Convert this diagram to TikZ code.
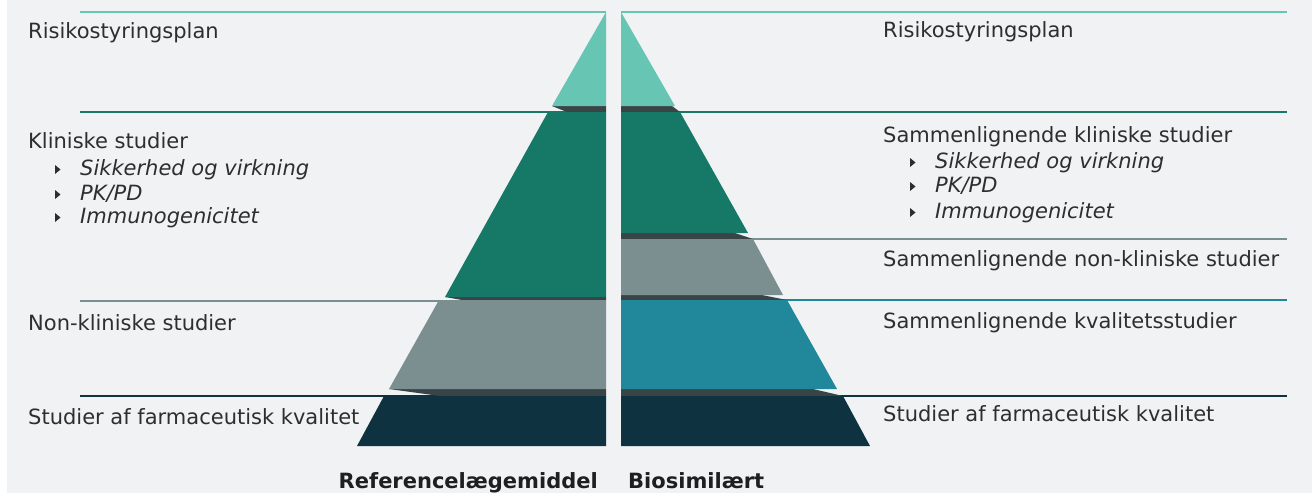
\documentclass[tikz,border=0pt]{standalone}
\usepackage{fontspec}
\setmainfont{DejaVu Sans}
\usetikzlibrary{positioning}

\definecolor{riskteal}{HTML}{66C5B3}
\definecolor{clingreen}{HTML}{167866}
\definecolor{nongray}{HTML}{7B8F90}
\definecolor{qualblue}{HTML}{21879A}
\definecolor{qualnavy}{HTML}{0E323F}
\definecolor{dropgray}{HTML}{394446}
\definecolor{pagebg}{HTML}{F1F2F4}
\definecolor{txt}{HTML}{2E2E2E}

\begin{document}
\begin{tikzpicture}[x=1pt, y=-1pt,
every node/.style={%
    inner sep=0pt, anchor=base west, text=txt,
    font=\fontsize{21}{25}\selectfont
    },
sub/.style={font=\fontsize{21}{25}\selectfont\itshape},
title/.style={font=\fontsize{21}{25}\selectfont\bfseries, text=black!88},
rule/.style={line width=2pt}
]
\useasboundingbox (0,0) rectangle (1312,493);
\fill[white] (0,0) rectangle (1312,493);
\fill[pagebg] (7,0) rectangle (1312,493);

% rules behind the pyramids
\foreach \y/\c in {12/riskteal, 112/clingreen, 301/nongray, 396/qualnavy}
    \draw[rule, \c] (80,\y) -- (606,\y);
\foreach \y/\c in {12/riskteal, 112/clingreen, 239/nongray, 300/qualblue, 396/qualnavy}
    \draw[rule, \c] (621,\y) -- (1287,\y);

% shadows between layers
\foreach \yb/\xb/\xs/\ys in {106/552/567/112, 297/445/462/300, 389/389/440/396}
    \fill[dropgray] (606,\yb) -- (\xb,\yb) -- (\xs,\ys) -- (606,\ys) -- cycle;
\foreach \yb/\xb/\xs/\ys in {106/672/680/112, 233/735/753/239, 295/762/787/300, 389/813/843/396}
    \fill[dropgray] (621,\yb) -- (\xb,\yb) -- (\xs,\ys) -- (621,\ys) -- cycle;

% left pyramid: reference product
\foreach \yt/\yb/\xt/\xb/\c in {12/106/606/552/riskteal,
                                112/297/548/445/clingreen,
                                300/389/439/389/nongray,
                                396/446/384/357/qualnavy}
    \fill[\c] (606,\yt) -- (\xt,\yt) -- (\xb,\yb) -- (606,\yb) -- cycle;

% right pyramid: biosimilar
\foreach \yt/\yb/\xt/\xb/\c in {12/106/621/675/riskteal,
                                112/233/680/748/clingreen,
                                239/295/753/783/nongray,
                                300/389/787/837/qualblue,
                                396/446/843/870/qualnavy}
    \fill[\c] (621,\yt) -- (\xt,\yt) -- (\xb,\yb) -- (621,\yb) -- cycle;

% labels
\node (l-risk) at (28,38) {Risikostyringsplan};
\node (l-klin) at (28,148) {Kliniske studier};
\node (l-non)  at (28,330) {Non-kliniske studier};
\node (l-kval) at (28,424) {Studier af farmaceutisk kvalitet};

\node (r-risk) at (883,37) {Risikostyringsplan};
\node (r-klin) at (883,142) {Sammenlignende kliniske studier};
\node (r-non)  at (883,266) {Sammenlignende non-kliniske studier};
\node (r-kval) at (883,328) {Sammenlignende kvalitetsstudier};
\node (r-farm) at (883,421) {Studier af farmaceutisk kvalitet};

\foreach \s/\x/\y/\t in {l/80/175/Sikkerhed og virkning, l/80/200/PK\slash PD, l/80/223/Immunogenicitet,
                         r/935/168/Sikkerhed og virkning, r/935/192/PK\slash PD, r/935/218/Immunogenicitet}{
    \node[sub] (\s-\y) at (\x,\y) {\t};
    \fill[txt] (\x-25,\y-10) -- (\x-25,\y-1) -- (\x-19.5,\y-5.5) -- cycle;
}

\node[title] (bio) at (628,488) {Biosimilært};
\node[title, anchor=base east] (ref) at (598,488) {Referencelægemiddel};

\end{tikzpicture}
\end{document}
